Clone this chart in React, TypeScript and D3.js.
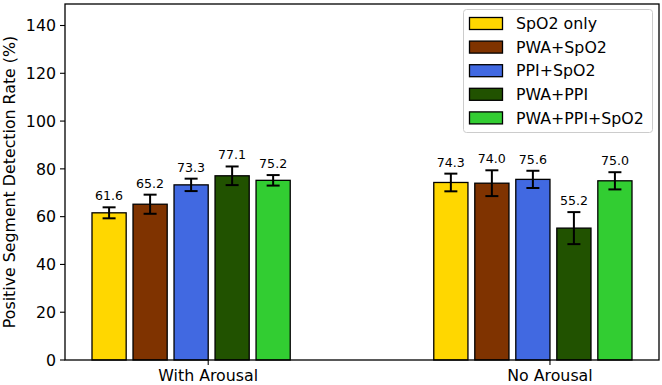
import React from "react";
import * as d3 from "d3";

// Detection rates per condition, one array per feature set
const groups = ["With Arousal", "No Arousal"];
const seriesNames = ["SpO2 only", "PWA+SpO2", "PPI+SpO2", "PWA+PPI", "PWA+PPI+SpO2"];
const seriesColors = ["#FFD700", "#7F3300", "#4169E1", "#215200", "#32CD32"];
const spo2Only = [61.6, 74.3];
const pwaSpo2 = [65.2, 74.0];
const ppiSpo2 = [73.3, 75.6];
const pwaPpi = [77.1, 55.2];
const pwaPpiSpo2 = [75.2, 75.0];
const spo2OnlyErr = [2.3, 3.7];
const pwaSpo2Err = [4.0, 5.4];
const ppiSpo2Err = [2.6, 3.6];
const pwaPpiErr = [3.9, 6.7];
const pwaPpiSpo2Err = [2.2, 3.6];
const yTicks = [0, 20, 40, 60, 80, 100, 120, 140];

const values = [spo2Only, pwaSpo2, ppiSpo2, pwaPpi, pwaPpiSpo2];
const errors = [spo2OnlyErr, pwaSpo2Err, ppiSpo2Err, pwaPpiErr, pwaPpiSpo2Err];

const W = 662;
const H = 385;
const M = { left: 65, right: 3, top: 4, bottom: 25 };
const FONT = "DejaVu Sans, Verdana, sans-serif";

const barWidth = 0.1;
const barStep = 0.12;

export default function App() {
  const x = d3.scaleLinear().domain([-0.419, 1.319]).range([M.left, W - M.right]);
  const y = d3.scaleLinear().domain([0, 149]).range([H - M.bottom, M.top]);
  const pxW = x(barWidth) - x(0);

  const bars: React.ReactNode[] = [];
  const errs: React.ReactNode[] = [];
  const labels: React.ReactNode[] = [];
  values.forEach((series, si) => {
    series.forEach((v, gi) => {
      const left = x(gi - barWidth + (si - 2) * barStep);
      const cx = left + pxW / 2;
      const e = errors[si][gi];
      bars.push(
        <rect
          key={`b${si}-${gi}`}
          x={left}
          y={y(v)}
          width={pxW}
          height={y(0) - y(v)}
          fill={seriesColors[si]}
          stroke="#000"
          strokeWidth={1.3}
        />
      );
      const cap = 6.5;
      errs.push(
        <g key={`e${si}-${gi}`} stroke="#000" strokeWidth={2}>
          <line x1={cx} x2={cx} y1={y(v - e)} y2={y(v + e)} />
          <line x1={cx - cap} x2={cx + cap} y1={y(v - e)} y2={y(v - e)} />
          <line x1={cx - cap} x2={cx + cap} y1={y(v + e)} y2={y(v + e)} />
        </g>
      );
      labels.push(
        <text
          key={`t${si}-${gi}`}
          x={cx}
          y={y(v + e) - 7}
          textAnchor="middle"
          fontSize={12.6}
          fill="#000"
        >
          {v.toFixed(1)}
        </text>
      );
    });
  });

  const legX = 463.5;
  const legY = 9.5;
  const rowH = 23.6;

  return (
    <div style={{ position: "fixed", left: 0, top: 0 }}>
      <svg width={W} height={H} style={{ display: "block", fontFamily: FONT }}>
        <rect x={0} y={0} width={W} height={H} fill="#fff" />
        {bars}
        {errs}
        {labels}
        {/* frame */}
        <rect
          x={M.left}
          y={M.top}
          width={W - M.left - M.right}
          height={H - M.top - M.bottom}
          fill="none"
          stroke="#000"
          strokeWidth={1.3}
        />
        {/* y axis */}
        {yTicks.map((t) => (
          <g key={`yt${t}`}>
            <line x1={M.left - 5} x2={M.left} y1={y(t)} y2={y(t)} stroke="#000" strokeWidth={1.1} />
            <text x={M.left - 9} y={y(t)} dy="0.36em" textAnchor="end" fontSize={15.8} fill="#000">
              {t}
            </text>
          </g>
        ))}
        <text
          transform={`translate(15,${(M.top + H - M.bottom) / 2}) rotate(-90)`}
          textAnchor="middle"
          fontSize={15.8}
          fill="#000"
        >
          Positive Segment Detection Rate (%)
        </text>
        {/* x axis */}
        {groups.map((g, gi) => (
          <g key={`xt${gi}`}>
            <line x1={x(gi)} x2={x(gi)} y1={H - M.bottom} y2={H - M.bottom + 5} stroke="#000" strokeWidth={1.1} />
            <text x={x(gi)} y={H - 4} textAnchor="middle" fontSize={15.8} fill="#000">
              {g}
            </text>
          </g>
        ))}
        {/* legend */}
        <rect
          x={legX}
          y={legY}
          width={189}
          height={123}
          rx={3}
          fill="#fff"
          fillOpacity={0.8}
          stroke="#ccc"
          strokeWidth={1}
        />
        {seriesNames.map((name, i) => {
          const cy = legY + 14 + i * rowH;
          return (
            <g key={`lg${i}`}>
              <rect x={469.5} y={cy - 6} width={33} height={12} fill={seriesColors[i]} stroke="#000" strokeWidth={1.3} />
              <text x={516} y={cy} dy="0.36em" fontSize={15.8} fill="#000">
                {name}
              </text>
            </g>
          );
        })}
      </svg>
    </div>
  );
}
